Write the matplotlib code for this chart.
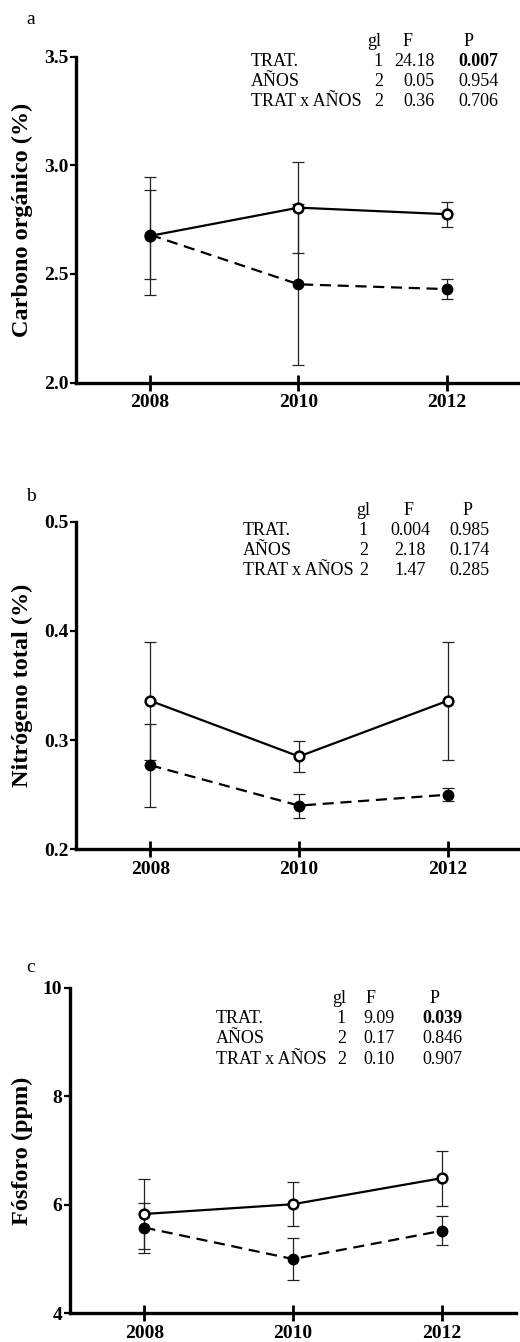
import matplotlib
matplotlib.use("Agg")
import matplotlib.pyplot as plt

plt.rcParams['font.family'] = ['Liberation Serif', 'DejaVu Serif']

years = [2008, 2010, 2012]

# Carbono orgánico (%)
carbon_open = [2.675, 2.805, 2.775]
carbon_open_err = [0.27, 0.21, 0.058]
carbon_fill = [2.68, 2.452, 2.43]
carbon_fill_err = [0.205, 0.37, 0.046]

# Nitrógeno total (%)
nitro_open = [0.336, 0.285, 0.336]
nitro_open_err = [0.054, 0.014, 0.054]
nitro_fill = [0.277, 0.240, 0.250]
nitro_fill_err = [0.038, 0.011, 0.006]

# Fósforo (ppm)
phos_open = [5.83, 6.01, 6.49]
phos_open_err = [0.65, 0.41, 0.51]
phos_fill = [5.58, 5.00, 5.52]
phos_fill_err = [0.46, 0.385, 0.27]

# ANOVA tables
terms = ['TRAT.', 'AÑOS', 'TRAT x AÑOS']
gl = ['1', '2', '2']
carbon_F = ['24.18', '0.05', '0.36']
carbon_P = ['0.007', '0.954', '0.706']
nitro_F = ['0.004', '2.18', '1.47']
nitro_P = ['0.985', '0.174', '0.285']
phos_F = ['9.09', '0.17', '0.10']
phos_P = ['0.039', '0.846', '0.907']

W, H = 520, 1342
fig = plt.figure(figsize=(W / 100, H / 100), dpi=100)
TS = 13


def px(x, y):
    return x / W, 1 - y / H


def panel(rect, letter, letter_xy, ylabel, ylim, yticks, yfmt,
          o, oe, f, fe, F, P, tab):
    ax = fig.add_axes(rect)
    ax.errorbar(years, o, yerr=oe, fmt='none', ecolor='#222222',
                elinewidth=0.9, capsize=4.3, capthick=0.9, zorder=2)
    ax.errorbar(years, f, yerr=fe, fmt='none', ecolor='#222222',
                elinewidth=0.9, capsize=4.3, capthick=0.9, zorder=2)
    ax.plot(years, o, '-', color='black', lw=1.6, marker='o',
            markersize=7, markerfacecolor='white', markeredgewidth=1.8,
            zorder=3)
    ax.plot(years, f, '--', color='black', lw=1.6, dashes=(5, 3),
            marker='o', markersize=7.5, markerfacecolor='black', zorder=4)
    ax.set_xlim(2007, 2013)
    ax.set_ylim(*ylim)
    ax.set_xticks(years)
    ax.set_yticks(yticks)
    ax.set_yticklabels([yfmt.format(v) for v in yticks])
    for s in ['top', 'right']:
        ax.spines[s].set_visible(False)
    for s in ['left', 'bottom']:
        ax.spines[s].set_linewidth(2.4)
    ax.tick_params(axis='y', direction='out', length=4.5, width=1.6, pad=1,
                   labelsize=14)
    ax.tick_params(axis='x', direction='inout', length=11, width=2, pad=3,
                   labelsize=14)
    for lab in ax.get_xticklabels() + ax.get_yticklabels():
        lab.set_fontweight('bold')
    ax.set_ylabel(ylabel, fontsize=17.5, fontweight='bold')
    left_px = rect[0] * W
    width_px = rect[2] * W
    ax.yaxis.set_label_coords((33 - left_px) / width_px, 0.5)
    ax.patch.set_visible(False)

    fig.text(*px(*letter_xy), letter, fontsize=14, ha='left', va='center')

    # ANOVA table
    hy = tab['hy']
    dy = tab['dy']
    for name, hx in zip(['gl', 'F', 'P'], tab['hx']):
        fig.text(*px(hx, hy), name, fontsize=TS, ha='center', va='center')
    for i in range(3):
        y = hy + dy * (i + 1)
        fig.text(*px(tab['lx'], y), terms[i], fontsize=TS, ha='left',
                 va='center')
        fig.text(*px(tab['glx'], y), gl[i], fontsize=TS, ha='right',
                 va='center')
        fig.text(*px(tab['Fx'], y), F[i], fontsize=TS, ha=tab['Fha'],
                 va='center')
        bold = float(P[i]) < 0.05
        fig.text(*px(tab['Px'], y), P[i], fontsize=TS, ha=tab['Pha'],
                 va='center', fontweight='bold' if bold else 'normal')
    return ax


def rect_from_px(left, top, bottom, right=W + 1):
    return [left / W, 1 - bottom / H, (right - left) / W, (bottom - top) / H]


panel(rect_from_px(76, 56.7, 382.5, 521), 'a', (26, 20),
      'Carbono orgánico (%)', (2.0, 3.5), [2.0, 2.5, 3.0, 3.5], '{:.1f}',
      carbon_open, carbon_open_err, carbon_fill, carbon_fill_err,
      carbon_F, carbon_P,
      dict(hy=42, dy=20, hx=[374, 408, 469], lx=251, glx=383,
           Fx=435, Fha='right', Px=458, Pha='left'))

panel(rect_from_px(76, 521.7, 849.3, 522), 'b', (26, 497),
      'Nitrógeno total (%)', (0.2, 0.5), [0.2, 0.3, 0.4, 0.5], '{:.1f}',
      nitro_open, nitro_open_err, nitro_fill, nitro_fill_err,
      nitro_F, nitro_P,
      dict(hy=510.7, dy=20, hx=[363, 409, 468], lx=243, glx=368,
           Fx=410, Fha='center', Px=469, Pha='center'))

panel(rect_from_px(70, 987.7, 1313.3, 516), 'c', (26, 968),
      'Fósforo (ppm)', (4, 10), [4, 6, 8, 10], '{:.0f}',
      phos_open, phos_open_err, phos_fill, phos_fill_err,
      phos_F, phos_P,
      dict(hy=998.3, dy=20.3, hx=[339, 371, 435], lx=216, glx=346,
           Fx=363, Fha='left', Px=422, Pha='left'))

fig.savefig('out.png', dpi=100)
